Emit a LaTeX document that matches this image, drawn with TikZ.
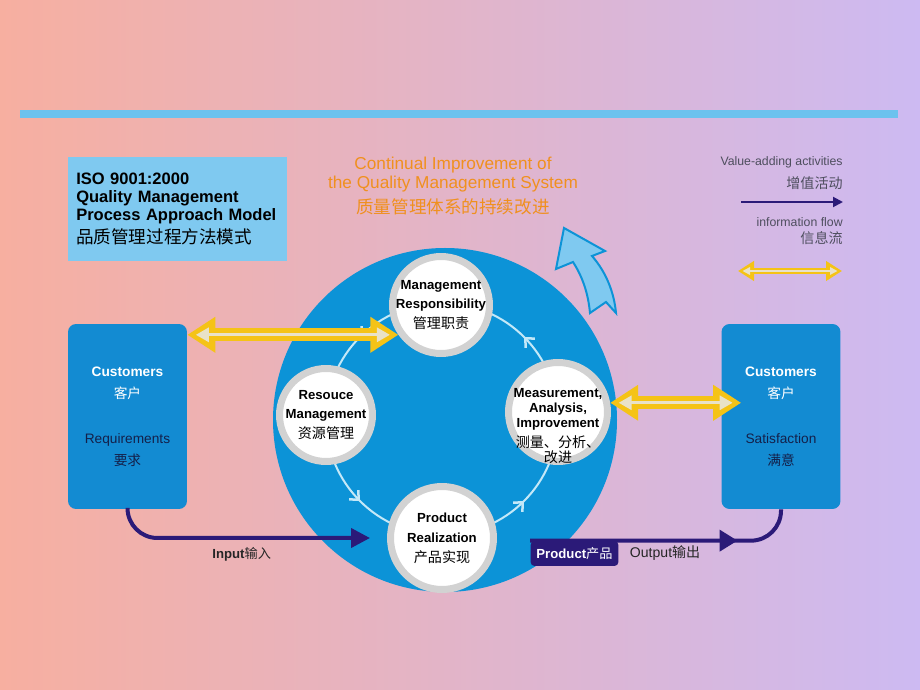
\documentclass[tikz,border=0pt]{standalone}
\usepackage{fontspec}
\setmainfont{Liberation Sans}
\newfontfamily\cjk{Noto Sans CJK SC}
\usetikzlibrary{arrows.meta,positioning,calc,decorations.markings}

\definecolor{bgpink}{HTML}{F7AFA0}
\definecolor{bglilac}{HTML}{CDBAF2}
\definecolor{barblue}{HTML}{6CC2EE}
\definecolor{paleblue}{HTML}{7FC9F0}
\definecolor{discblue}{HTML}{0C93D7}
\definecolor{boxblue}{HTML}{138BD2}
\definecolor{navy}{HTML}{2B1A78}
\definecolor{custtxt}{HTML}{14204A}
\definecolor{orangetxt}{HTML}{F0901E}
\definecolor{ringgray}{HTML}{D2D2D2}
\definecolor{gold}{HTML}{F5C316}
\definecolor{paleyellow}{HTML}{E9E2C8}
\definecolor{legendgray}{HTML}{4E4E5E}
\definecolor{ringline}{HTML}{C4E8F8}

\newcommand\zh[1]{{\cjk #1}}

\tikzset{
  proc/.style={circle, draw=ringgray, line width=0.14cm, fill=white, minimum size=1.94cm, inner sep=0pt},
  proctext/.style={align=center, font=\fontsize{7.5}{11.3}\selectfont\bfseries},
  cust/.style={rectangle, rounded corners=0.16cm, fill=boxblue, minimum width=2.38cm, minimum height=3.7cm, align=center, font=\fontsize{7.8}{12.5}\selectfont},
  legend/.style={anchor=east, text=legendgray, font=\fontsize{7}{8}\selectfont, inner sep=0pt},
  valueflow/.style={draw=navy, line width=0.08cm, rounded corners=0.6cm},
  infoflow/.style={draw=gold, line width=0.26cm,
    {Triangle[length=0.56cm,width=0.68cm]}-{Triangle[length=0.56cm,width=0.68cm]},
    postaction={draw=paleyellow, line width=0.06cm, shorten <=0.17cm, shorten >=0.17cm,
      {Triangle[length=0.26cm,width=0.28cm]}-{Triangle[length=0.26cm,width=0.28cm]}}},
  legendflow/.style={draw=gold, line width=0.12cm,
    {Triangle[length=0.32cm,width=0.38cm]}-{Triangle[length=0.32cm,width=0.38cm]},
    postaction={draw=paleyellow, line width=0.03cm, shorten <=0.09cm, shorten >=0.09cm,
      {Triangle[length=0.15cm,width=0.15cm]}-{Triangle[length=0.15cm,width=0.15cm]}}},
  ringflow/.style={draw=ringline, line width=0.04cm, postaction={decorate},
    decoration={markings, mark=between positions 0.125 and 1 step 0.25 with {\arrow[line width=0.05cm]{Straight Barb[length=0.14cm,width=0.26cm]}}}},
}

\begin{document}
\begin{tikzpicture}[x=0.02cm, y=0.02cm]
\useasboundingbox (0,0) rectangle (920,690);
\shade[left color=bgpink, right color=bglilac] (0,0) rectangle (920,690);
\fill[barblue] (20,572) rectangle (898,580);

% heading and legend
\node[rectangle, fill=paleblue, minimum width=4.38cm, minimum height=2.08cm, text width=4.05cm, inner xsep=0.165cm, align=left,
      font=\fontsize{9.4}{10.2}\selectfont\bfseries] (title) at (177.5,481)
  {ISO 9001:2000\\Quality Management\\Process Approach Model\\[0.06cm]{\fontsize{10}{10}\selectfont\mdseries\zh{品质管理过程方法模式}}};
\node[align=center, text=orangetxt, font=\fontsize{9.8}{10.8}\selectfont] (cont) at (453,504)
  {Continual Improvement of\\the Quality Management System\\[0.12cm]{\fontsize{10}{10}\selectfont\zh{质量管理体系的持续改进}}};

\node[legend] (vlab) at (843,528) {Value-adding activities};
\node[legend, font=\fontsize{8}{8}\selectfont] (vzh) at (843,507) {\zh{增值活动}};
\coordinate (va) at (741,488);
\coordinate (vb) at (843,488);
\node[legend] (ilab) at (843,468) {information flow};
\node[legend, font=\fontsize{8}{8}\selectfont] (izh) at (843,452) {\zh{信息流}};
\coordinate (ia) at (738,419);
\coordinate (ib) at (842,419);
\draw[navy, line width=0.04cm, -{Triangle[length=0.2cm,width=0.2cm]}] (va) -- (vb);
\draw[legendflow] (ia) -- (ib);

% process model
\fill[discblue] (445,270) circle[radius=172];
\draw[ringflow] (442,271) circle[radius=116];

\node[proc, label={[proctext]center:Management\\Responsibility\\{\fontsize{8}{8}\selectfont\mdseries\zh{管理职责}}}] (mgmt) at (441,385) {};
\node[proc, minimum size=1.86cm, label={[proctext]center:Resouce\\Management\\{\fontsize{8}{8}\selectfont\mdseries\zh{资源管理}}}] (res) at (326,275) {};
\node[proc, minimum size=1.98cm, label={[proctext, yshift=-0.28cm, font=\fontsize{7.5}{8.5}\selectfont\bfseries]center:Measurement,\\Analysis,\\Improvement\\[0.1cm]{\fontsize{8}{8}\selectfont\mdseries\zh{测量、分析、}}\\{\fontsize{8}{8}\selectfont\mdseries\zh{改进}}}] (meas) at (558,278) {};
\node[proc, minimum size=2.06cm, label={[proctext]center:Product\\Realization\\{\fontsize{8}{8}\selectfont\mdseries\zh{产品实现}}}] (prod) at (442,152) {};

\node[cust] (lcust) at (127.5,273.5)
  {{\bfseries\color{white}Customers}\\{\color{white}\zh{客户}}\\[0.46cm]{\color{custtxt}Requirements}\\{\color{custtxt}\zh{要求}}};
\node[cust] (rcust) at (781,273.5)
  {{\bfseries\color{white}Customers}\\{\color{white}\zh{客户}}\\[0.46cm]{\color{custtxt}Satisfaction}\\{\color{custtxt}\zh{满意}}};

\node[rectangle, rounded corners=0.08cm, fill=navy, text=white, minimum width=1.7cm, minimum height=0.5cm,
      font=\fontsize{7.5}{8}\selectfont\bfseries] (prodtab) at (574.5,136.5) {Product\zh{\mdseries 产品}};
\node[right=0.1cm of prodtab, text=black!85, font=\fontsize{8}{8}\selectfont] (outlab) {Output\zh{输出}};

% flows
\draw[valueflow, shorten >=0.34cm, -{Triangle[length=0.38cm,width=0.38cm]}] (lcust.south) |- (prod.west)
  node[pos=0.72, below=1pt, text=black!85, font=\fontsize{7.5}{8}\selectfont\bfseries] (inlab) {Input\zh{\mdseries 输入}};
\draw[valueflow, postaction={decorate}, decoration={markings, mark=at position 0.77 with {\arrow{Triangle[length=0.36cm,width=0.42cm]}}}]
  (prodtab.north west) -| (rcust.south);

\draw[infoflow] (lcust.east |- mgmt.215) -- (mgmt.215);
\draw[infoflow] (meas.10) -- ($(rcust.west |- meas.10)+(20,0)$);

% improvement arrow
\filldraw[fill=paleblue, draw=discblue, line width=0.04cm]
  (564,462) -- (605,439) -- (592,434) .. controls (606,418) and (614,398) .. (616,377)
  -- (606,388) -- (590,377) .. controls (588,398) and (582,414) .. (573,428) -- (556,421) -- cycle;
\end{tikzpicture}
\end{document}
